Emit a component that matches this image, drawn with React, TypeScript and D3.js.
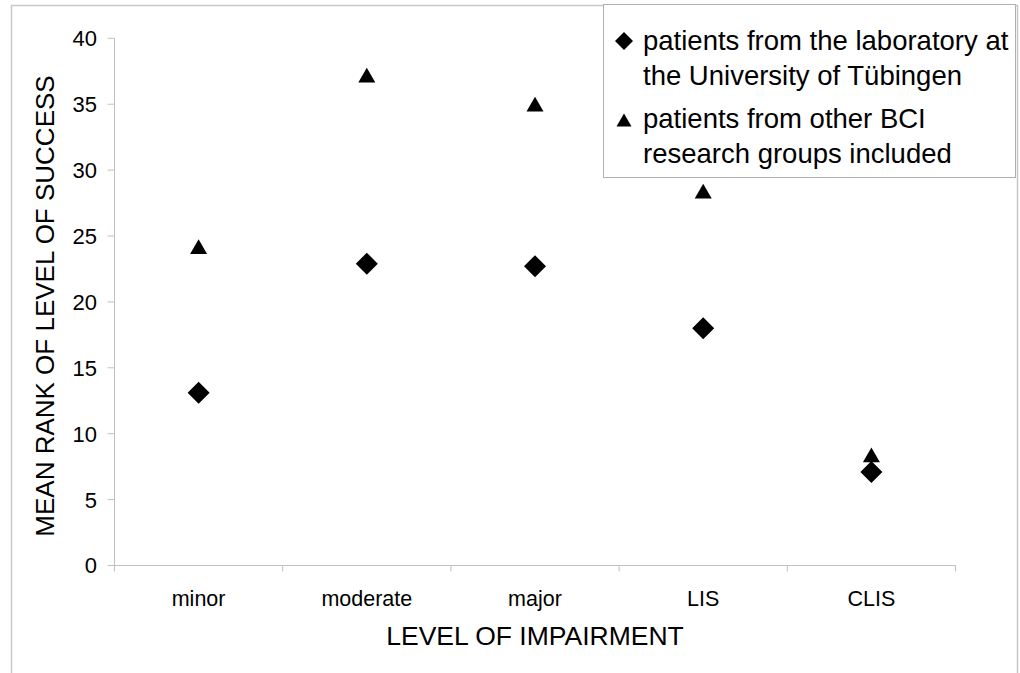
import React from "react";
import * as d3 from "d3";

const categories = ["minor", "moderate", "major", "LIS", "CLIS"];
const tubingen = [13.1, 22.9, 22.7, 18.0, 7.1];
const otherGroups = [24.2, 37.2, 35.0, 28.4, 8.4];
const yTicks = [0, 5, 10, 15, 20, 25, 30, 35, 40];
const legendLabels = [
  ["patients from the laboratory at", "the University of Tübingen"],
  ["patients from other BCI", "research groups included"],
];

const W = 1020;
const H = 673;
const left = 114.5;
const right = 955.5;
const top = 38.3;
const bottom = 565.5;
const font = "'Liberation Sans', Arial, sans-serif";
const axisColor = "#c0c0c0";

// sizes from half-width
const diamondSize = (r: number) => (r / 0.62625) ** 2;
const triSize = (halfW: number) => ((halfW / (Math.sqrt(3) / 2)) / 0.6824) ** 2;
const triOffset = (halfW: number) => (halfW / (Math.sqrt(3) / 2)) / 4;

export default function App() {
  const x = d3.scaleBand<string>().domain(categories).range([left, right]);
  const y = d3.scaleLinear().domain([0, 40]).range([bottom, top]);
  const diamond = d3.symbol().type(d3.symbolDiamond2).size(diamondSize(11))();
  const tri = d3.symbol().type(d3.symbolTriangle2).size(triSize(8.5))();
  const tOff = triOffset(8.5);
  const cx = (c: string) => (x(c) as number) + x.bandwidth() / 2;
  const boundaries = [...categories.map((c) => x(c) as number), right];

  return (
    <svg width={W} height={H} style={{ position: "absolute", left: 0, top: 0, background: "#fff" }}>
      <rect x={0} y={0} width={W} height={H} fill="#fff" />
      <path d={`M11.5,${H} V5.5 H1017.5 V${H}`} fill="none" stroke="#c8c8c8" strokeWidth={1.5} />
      {/* y axis */}
      <line x1={left} x2={left} y1={top} y2={bottom} stroke={axisColor} />
      {yTicks.map((t) => (
        <g key={t}>
          <line x1={left - 7} x2={left} y1={y(t)} y2={y(t)} stroke={axisColor} />
          <text x={97} y={y(t)} dy="0.36em" textAnchor="end" fontFamily={font} fontSize={22} fill="#000">
            {t}
          </text>
        </g>
      ))}
      {/* x axis */}
      <line x1={left} x2={right} y1={bottom} y2={bottom} stroke={axisColor} />
      {boundaries.map((b, i) => (
        <line key={i} x1={b} x2={b} y1={bottom} y2={bottom + 6} stroke={axisColor} />
      ))}
      {categories.map((c) => (
        <text key={c} x={cx(c)} y={606} textAnchor="middle" fontFamily={font} fontSize={21.5} fill="#000">
          {c}
        </text>
      ))}
      <text x={535} y={645} textAnchor="middle" fontFamily={font} fontSize={26.5} fill="#000">
        LEVEL OF IMPAIRMENT
      </text>
      <text
        transform={`translate(54,306) rotate(-90)`}
        textAnchor="middle"
        fontFamily={font}
        fontSize={26}
        fill="#000"
      >
        MEAN RANK OF LEVEL OF SUCCESS
      </text>
      {/* markers */}
      {categories.map((c, i) => (
        <path key={"t" + c} d={tri as string} transform={`translate(${cx(c)},${y(otherGroups[i]) + tOff})`} fill="#000" />
      ))}
      {categories.map((c, i) => (
        <path key={"d" + c} d={diamond as string} transform={`translate(${cx(c)},${y(tubingen[i])})`} fill="#000" />
      ))}
      {/* legend */}
      <rect x={603.5} y={4.5} width={412} height={173} fill="#fff" stroke="#b0b0b0" />
      <path d={d3.symbol().type(d3.symbolDiamond2).size(diamondSize(9))() as string} transform="translate(624,41)" fill="#000" />
      <path d={d3.symbol().type(d3.symbolTriangle2).size(triSize(7.5))() as string} transform={`translate(624,${120 + triOffset(7.5)})`} fill="#000" />
      {legendLabels.map((lines, i) =>
        lines.map((l, j) => (
          <text key={i + "-" + j} x={643} y={50 + i * 78 + j * 35} fontFamily={font} fontSize={27.5} fill="#000">
            {l}
          </text>
        ))
      )}
    </svg>
  );
}
